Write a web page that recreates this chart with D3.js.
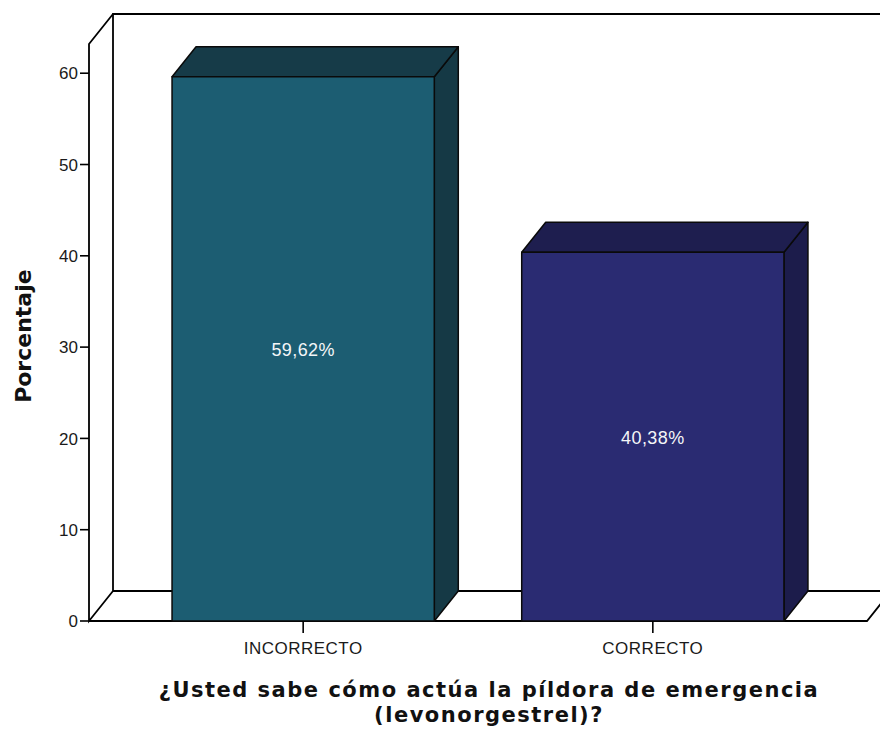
<!DOCTYPE html>
<html>
<head>
<meta charset="utf-8">
<script src="https://cdn.jsdelivr.net/npm/d3@7"></script>
<style>
  html, body { margin: 0; padding: 0; background: #fff; }
  svg { display: block; }
</style>
</head>
<body>
<script>
// Chart data
const categories = ["INCORRECTO", "CORRECTO"];
const percentages = [59.62, 40.38];
const valueLabels = ["59,62%", "40,38%"];
const yTicks = [0, 10, 20, 30, 40, 50, 60];
const yTitle = "Porcentaje";
const xTitleLines = ["¿Usted sabe cómo actúa la píldora de emergencia", "(levonorgestrel)?"];

const frontColors = ["#1c5d72", "#2a2b72"];
const sideColors = ["#153945", "#1c1c4b"];
const topColors = ["#163b48", "#1e1e4f"];

const W = 880, H = 731;
const depthX = 24, depthY = -30;   // 3D offset of the back plane

const svg = d3.select("body").append("svg")
  .attr("width", W).attr("height", H);

const x = d3.scaleBand()
  .domain(categories)
  .range([89, 867])
  .paddingInner(0.25)
  .paddingOuter(0.2375);

const y = d3.scaleLinear()
  .domain([0, 63.2])
  .range([621, 44]);

const x0 = x.range()[0], x1 = x.range()[1];
const yBase = y(0), yTop = y(63.2);

const frame = svg.append("g")
  .attr("fill", "none")
  .attr("stroke", "#000")
  .attr("stroke-width", 1.8);

// back wall
frame.append("path")
  .attr("d", d3.line()([[x1 + depthX + 20, yTop + depthY], [x0 + depthX, yTop + depthY], [x0 + depthX, yBase + depthY], [x1 + depthX, yBase + depthY]]));
// left wall edges
frame.append("path")
  .attr("d", d3.line()([[x0 + depthX, yTop + depthY], [x0, yTop], [x0, yBase], [x0 + depthX, yBase + depthY]]));
// floor
frame.append("path")
  .attr("d", d3.line()([[x0, yBase], [x1, yBase], [x1 + depthX, yBase + depthY]]));

// y axis ticks and labels
const yAxis = svg.append("g");
yTicks.forEach(t => {
  yAxis.append("line")
    .attr("x1", x0 - 9).attr("x2", x0)
    .attr("y1", y(t)).attr("y2", y(t))
    .attr("stroke", "#000").attr("stroke-width", 1.6);
  yAxis.append("text")
    .attr("x", x0 - 11).attr("y", y(t))
    .attr("dy", "0.36em")
    .attr("text-anchor", "end")
    .attr("font-family", "Liberation Sans, Arial, sans-serif")
    .attr("font-size", 17)
    .attr("fill", "#1a1a1a")
    .text(t);
});

// bars
const bars = svg.append("g");
categories.forEach((c, i) => {
  const bx = x(c), bw = x.bandwidth();
  const ty = y(percentages[i]);
  const g = bars.append("g").attr("stroke", "#0a0a0a").attr("stroke-width", 1.5).attr("stroke-linejoin", "round");
  // side face
  g.append("path")
    .attr("fill", sideColors[i])
    .attr("d", d3.line()([[bx + bw, ty], [bx + bw + depthX, ty + depthY], [bx + bw + depthX, yBase + depthY], [bx + bw, yBase]]) + "Z");
  // top face
  g.append("path")
    .attr("fill", topColors[i])
    .attr("d", d3.line()([[bx, ty], [bx + depthX, ty + depthY], [bx + bw + depthX, ty + depthY], [bx + bw, ty]]) + "Z");
  // front face
  g.append("rect")
    .attr("x", bx).attr("y", ty)
    .attr("width", bw).attr("height", yBase - ty)
    .attr("fill", frontColors[i]);
  // value label
  svg.append("text")
    .attr("x", bx + bw / 2)
    .attr("y", (ty + yBase) / 2)
    .attr("dy", "0.38em")
    .attr("text-anchor", "middle")
    .attr("font-family", "Liberation Sans, Arial, sans-serif")
    .attr("font-size", 18)
    .attr("letter-spacing", "0.4px")
    .attr("fill", "#f4f6f8")
    .text(valueLabels[i]);
});

// x axis ticks and labels
const xAxis = svg.append("g");
categories.forEach(c => {
  const cx = x(c) + x.bandwidth() / 2;
  xAxis.append("line")
    .attr("x1", cx).attr("x2", cx)
    .attr("y1", yBase).attr("y2", yBase + 12)
    .attr("stroke", "#000").attr("stroke-width", 1.6);
  xAxis.append("text")
    .attr("x", cx).attr("y", yBase + 33)
    .attr("text-anchor", "middle")
    .attr("font-family", "Liberation Sans, Arial, sans-serif")
    .attr("font-size", 17)
    .attr("letter-spacing", "0.5px")
    .attr("fill", "#1a1a1a")
    .text(c);
});

// axis titles
svg.append("text")
  .attr("transform", `translate(31, ${(y(0) + y(60)) / 2 - 11}) rotate(-90)`)
  .attr("text-anchor", "middle")
  .attr("font-family", "DejaVu Sans, Verdana, sans-serif")
  .attr("font-weight", "bold")
  .attr("font-size", 22)
  .attr("fill", "#111")
  .text(yTitle);

xTitleLines.forEach((line, i) => {
  svg.append("text")
    .attr("x", 489)
    .attr("y", 697 + i * 25)
    .attr("text-anchor", "middle")
    .attr("font-family", "DejaVu Sans, Verdana, sans-serif")
    .attr("font-weight", "bold")
    .attr("font-size", 21)
    .attr("letter-spacing", "1.5px")
    .attr("fill", "#111")
    .text(line);
});
</script>
</body>
</html>
